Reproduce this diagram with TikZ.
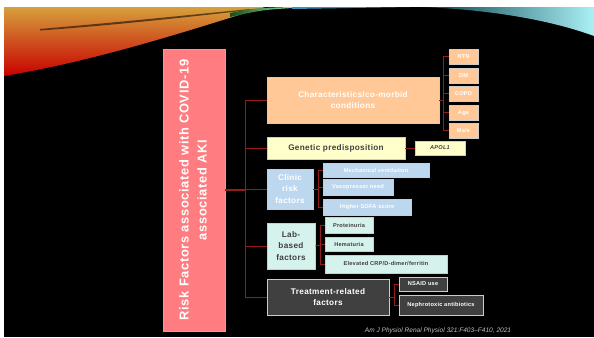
\documentclass[tikz,border=0pt]{standalone}
\usepackage{fontspec}
\setmainfont{Liberation Sans}
\newfontfamily\spaced[LetterSpace=4]{Liberation Sans}
\newfontfamily\widespaced[LetterSpace=5]{Liberation Sans}
\usepackage{xcolor}
\definecolor{linkred}{RGB}{150,28,28}
\definecolor{salmon}{RGB}{255,124,128}
\definecolor{peach}{RGB}{255,200,150}
\definecolor{cream}{RGB}{255,255,204}
\definecolor{skyblue}{RGB}{189,215,238}
\definecolor{mint}{RGB}{214,242,236}
\definecolor{charcoal}{RGB}{64,64,64}

\begin{document}
\begin{tikzpicture}[x=0.03cm,y=-0.03cm,
  box/.style={draw=white!80!black,line width=0.6pt,inner sep=1pt,align=center},
  cat/.style={box,font=\fontsize{7}{9.5}\spaced\bfseries},
  item/.style={box,font=\fontsize{4.8}{5.5}\spaced\bfseries},
  link/.style={draw=linkred,line width=0.8pt}]
\useasboundingbox (0,0) rectangle (594,337);
% Slide background
\fill[white] (0,0) rectangle (594,337);
\fill[black] (4,7) rectangle (594,337);
% Swooshes along the top
\shade[top color={rgb,255:red,214;green,160;blue,60},middle color={rgb,255:red,225;green,90;blue,10},bottom color={rgb,255:red,200;green,0;blue,0}]
  (4,7) -- (265,7) .. controls (190,30) and (100,60) .. (4,76) -- cycle;
\fill[black,opacity=0.55] (40,29) .. controls (110,23) and (180,16) .. (250,9)
  -- (250,10) .. controls (180,18) and (110,25.5) .. (40,30.5) -- cycle;
\shade[left color={rgb,255:red,20;green,80;blue,20},right color={rgb,255:red,150;green,230;blue,170}]
  (230,13) .. controls (255,8) .. (292,7) -- (292,8) .. controls (262,10) .. (230,17) -- cycle;
\fill[cyan!50!teal] (292,7) -- (410,7) -- (292,9) -- cycle;
\shade[left color={rgb,255:red,0;green,60;blue,70},right color={rgb,255:red,170;green,240;blue,245}]
  (420,7) -- (594,7) -- (594,36) .. controls (545,18) and (480,9) .. (420,7) -- cycle;

% Main box
\node[box,fill=salmon,draw=white!70!black,minimum width=1.86cm,minimum height=8.46cm,
  text=white,font=\fontsize{11}{15.5}\widespaced\bfseries] (main) at (194,190)
  {\rotatebox{90}{\begin{tabular}{@{}c@{}}Risk Factors associated with COVID-19\\associated AKI\end{tabular}}};

% Categories
\node[cat,fill=peach,text=white,minimum width=5.16cm,minimum height=1.38cm] (char) at (353,100)
  {Characteristics/co-morbid\\conditions};
\node[cat,fill=cream,text=charcoal,minimum width=4.14cm,minimum height=0.66cm] (gen) at (336,148)
  {Genetic predisposition};
\node[cat,fill=skyblue,text=white,minimum width=1.38cm,minimum height=1.2cm] (clin) at (290,189)
  {Clinic\\risk\\factors};
\node[cat,fill=mint,text=charcoal,minimum width=1.44cm,minimum height=1.38cm] (lab) at (291,246)
  {Lab-\\based\\factors};
\node[cat,fill=charcoal,text=white,minimum width=3.66cm,minimum height=1.08cm] (treat) at (328,297)
  {Treatment-related\\factors};

% Co-morbid conditions
\foreach \nm/\yy/\tx in {htn/56.7/HTN,dm/75.7/DM,copd/93.7/COPD,age/112.7/Age,male/130.7/Male}
  \node[item,fill=peach,text=white,minimum width=0.87cm,minimum height=0.45cm] (\nm) at (463.5,\yy) {\tx};
% Genetic
\node[item,fill=cream,text=charcoal,minimum width=1.5cm,minimum height=0.42cm] (apol) at (440,148) {\itshape APOL1};
% Clinic
\node[item,fill=skyblue,text=white,minimum width=3.18cm,minimum height=0.42cm] (mech) at (376,170) {Mechanical ventilation};
\node[item,fill=skyblue,text=white,minimum width=2.1cm,minimum height=0.48cm] (vaso) at (358,187) {Vasopressor need};
\node[item,fill=skyblue,text=white,minimum width=2.64cm,minimum height=0.48cm] (sofa) at (367,207) {Higher SOFA score};
% Lab
\node[item,fill=mint,text=charcoal,minimum width=1.44cm,minimum height=0.48cm] (prot) at (349,225) {Proteinuria};
\node[item,fill=mint,text=charcoal,minimum width=1.44cm,minimum height=0.42cm] (hema) at (349,244) {Hematuria};
\node[item,fill=mint,text=charcoal,minimum width=3.66cm,minimum height=0.54cm] (crp) at (386,264) {Elevated CRP/D-dimer/ferritin};
% Treatment
\node[item,fill=charcoal,text=white,minimum width=1.44cm,minimum height=0.42cm] (nsaid) at (423,284) {NSAID use};
\node[item,fill=charcoal,text=white,minimum width=2.52cm,minimum height=0.6cm] (neph) at (441,305) {Nephrotoxic antibiotics};

% Connectors
\coordinate (hub) at (245,190);
\draw[link,line width=1.4pt] (main.east) -- (hub);
\foreach \c in {char,gen,clin,lab,treat}
  \draw[link] (hub) |- (\c.west);
\coordinate (charhub) at (443,100);
\draw[link] (char.east) -- (charhub);
\foreach \c in {htn,dm,copd,age,male}
  \draw[link] (charhub) |- (\c.west);
\draw[link] (gen.east) -- (apol.west);
\coordinate (clinhub) at (318,189);
\draw[link] (clin.east) -- (clinhub);
\foreach \c in {mech,vaso,sofa}
  \draw[link] (clinhub) |- (\c.west);
\coordinate (labhub) at (320,245);
\draw[link] (lab.east) -- (labhub);
\foreach \c in {prot,hema,crp}
  \draw[link] (labhub) |- (\c.west);
\coordinate (treathub) at (394,297);
\draw[link] (treat.east) -- (treathub);
\foreach \c in {nsaid,neph}
  \draw[link] (treathub) |- (\c.west);

% Source
\node[text=white!75!black,font=\fontsize{5.6}{6}\selectfont\itshape] (src) at (438,331)
  {Am J Physiol Renal Physiol 321:F403--F410, 2021};
\end{tikzpicture}
\end{document}
